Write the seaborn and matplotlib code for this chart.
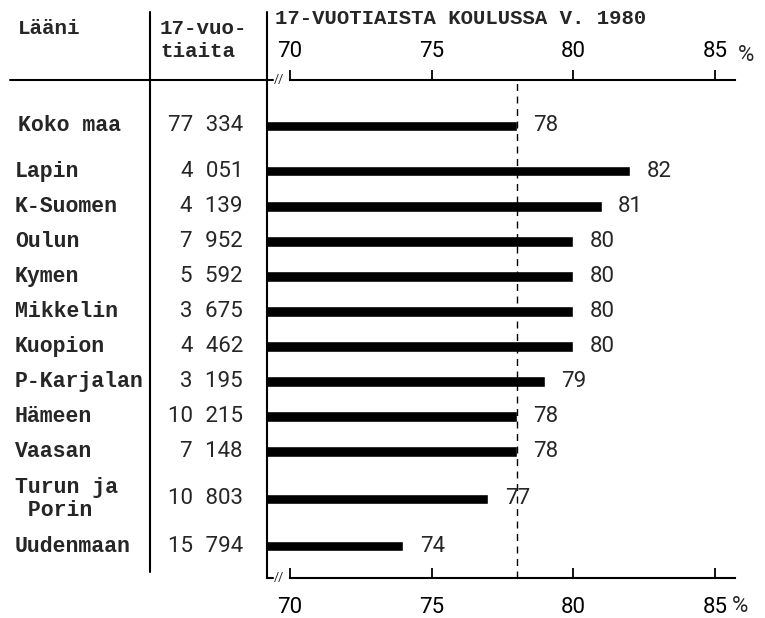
import pandas as pd
import matplotlib.pyplot as plt
import matplotlib.transforms as mtransforms
import seaborn as sns

laanit = ["Koko maa", "Lapin", "K-Suomen", "Oulun", "Kymen", "Mikkelin",
          "Kuopion", "P-Karjalan", "Hämeen", "Vaasan", "Turun ja\n Porin", "Uudenmaan"]
vuotiaita = [77334, 4051, 4139, 7952, 5592, 3675, 4462, 3195, 10215, 7148, 10803, 15794]
koulussa = [78, 82, 81, 80, 80, 80, 80, 79, 78, 78, 77, 74]
xticks = [70, 75, 80, 85]
otsikko = "17-VUOTIAISTA KOULUSSA V. 1980"

# row positions: a bit more room after the total row and around two-line names
rows = []
y = 0.0
prev_lines = 1
for i, name in enumerate(laanit):
    lines = name.count("\n") + 1
    if i > 0:
        y += 1 + 0.35 * (lines - 1 + prev_lines - 1)
        if i == 1:
            y += 0.3
    rows.append(y)
    prev_lines = lines

df = pd.DataFrame({"laani": laanit, "pos": rows, "pct": koulussa})

sns.set_style("white")
plt.rcParams["font.family"] = ["Roboto", "DejaVu Sans"]
mono = "Liberation Mono"
fs = 16

W, H = 765, 618
fig = plt.figure(figsize=(W / 100, H / 100), dpi=100)
ax = fig.add_axes([267 / W, 1 - 578 / H, (735 - 267) / W, (578 - 80) / H])

sns.barplot(data=df, x="pct", y="pos", orient="h", native_scale=True,
            color="black", saturation=1, width=0.29, errorbar=None, ax=ax)
ax.set_xlim(69.19, 85.71)
ax.set_ylim(rows[-1] + 0.91, -1.31)
ax.set_ylabel("")
ax.set_xlabel("")
ax.set_yticks([])

ax.bar_label(ax.containers[0], labels=[str(v) for v in koulussa],
             padding=12, fontsize=fs)
ax.axvline(koulussa[0], color="black", lw=1, ls=(0, (5, 4)))

# axes frame
ax.spines["right"].set_visible(False)
for s in ["left", "top", "bottom"]:
    ax.spines[s].set_color("black")
    ax.spines[s].set_linewidth(1.5)
ax.spines["top"].set_bounds(70, 85.71)
ax.spines["bottom"].set_bounds(70, 85.71)

ax.set_xticks(xticks)
ax.set_xticklabels([str(t) for t in xticks])
ax.tick_params(axis="x", bottom=True, top=False, direction="in", length=7,
               width=1.3, pad=14, labelsize=fs, colors="black")

sec = ax.secondary_xaxis("top")
sec.set_xticks(xticks)
sec.set_xticklabels([str(t) for t in xticks])
sec.spines["top"].set_visible(False)
sec.tick_params(axis="x", direction="out", length=7, width=1.3, pad=6,
                labelsize=fs, colors="black")

xt = ax.get_xaxis_transform()
ax.text(86.1, 1.05, "%", transform=xt, ha="center", va="center", fontsize=fs)
ax.text(85.9, -0.058, "%", transform=xt, ha="center", va="center", fontsize=fs)

# axis breaks
ax.plot([69.19, 69.4], [1, 1], transform=xt, color="black", lw=1.5, clip_on=False)
ax.plot([69.19, 69.4], [0, 0], transform=xt, color="black", lw=1.5, clip_on=False)
ax.text(69.6, 1.0, "//", transform=xt, ha="center", va="center", fontsize=9)
ax.text(69.6, 0.0, "//", transform=xt, ha="center", va="center", fontsize=9)

# table part on the left
ff = fig.transFigure
fig.add_artist(plt.Line2D([10 / W, 267 / W], [1 - 80 / H, 1 - 80 / H],
                          transform=ff, color="black", lw=1.5))
fig.add_artist(plt.Line2D([150 / W, 150 / W], [1 - 12 / H, 1 - 572 / H],
                          transform=ff, color="black", lw=1.5))
fig.add_artist(plt.Line2D([267 / W, 267 / W], [1 - 12 / H, 1 - 80 / H],
                          transform=ff, color="black", lw=1.5))

fig.text(18 / W, 1 - 28 / H, "Lääni", family=mono, fontsize=15,
         fontweight="bold", va="center")
fig.text(160 / W, 1 - 40 / H, "17-vuo-\ntiaita", family=mono, fontsize=15,
         fontweight="bold", va="center", linespacing=1.25)
fig.text(275 / W, 1 - 18 / H, otsikko, family=mono, fontsize=14.9,
         fontweight="bold", va="center")

trans = mtransforms.blended_transform_factory(fig.transFigure, ax.transData)
for name, n, p in zip(laanit, vuotiaita, rows):
    x0 = 18 if name == "Koko maa" else 15
    ax.text(x0 / W, p, name, transform=trans, family=mono, fontweight="bold",
            fontsize=15.5, ha="left", va="center", linespacing=1.1, clip_on=False)
    ax.text(243 / W, p, f"{n:,}".replace(",", "\u2007"), transform=trans,
            fontsize=fs, ha="right", va="center", clip_on=False)

fig.savefig("out.png", dpi=100)
